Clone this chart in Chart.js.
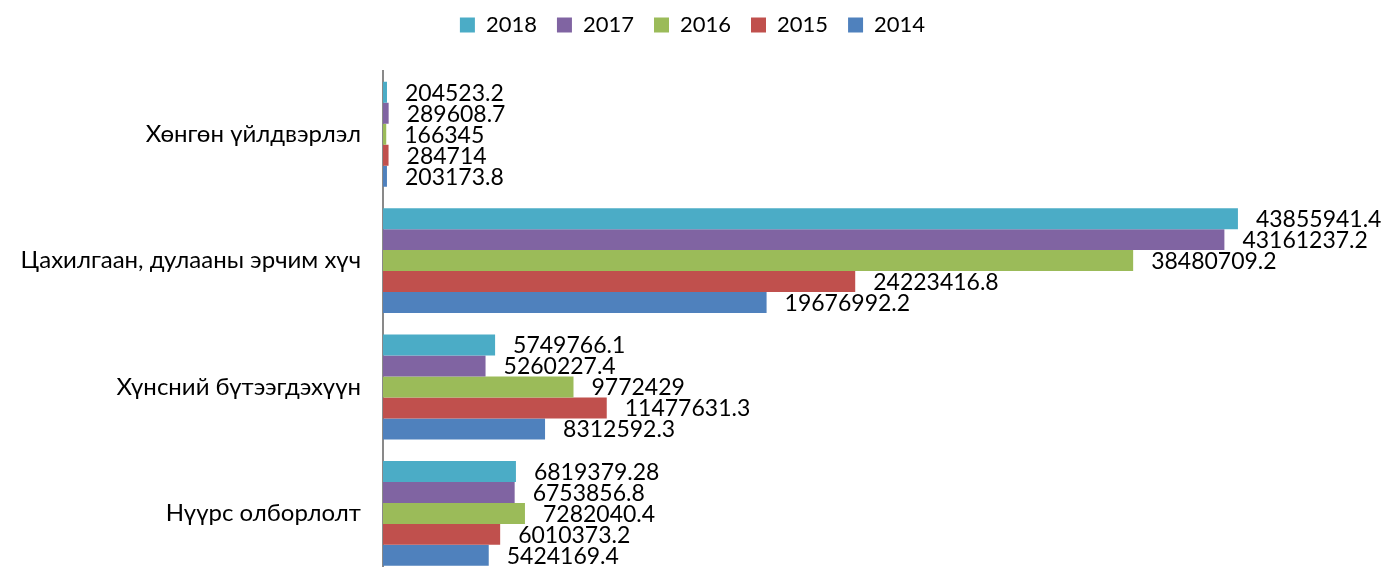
<!DOCTYPE html>
<html>
<head>
<meta charset="utf-8">
<script src="https://cdn.jsdelivr.net/npm/chart.js@4/dist/chart.umd.min.js"></script>
<style>
  html, body { margin: 0; padding: 0; background: #fff; overflow: hidden; }
  canvas { display: block; }
</style>
</head>
<body>
<canvas id="chart" width="1385" height="613"></canvas>
<script>
var categories = ['Хөнгөн үйлдвэрлэл', 'Цахилгаан, дулааны эрчим хүч', 'Хүнсний бүтээгдэхүүн', 'Нүүрс олборлолт'];
var years = ['2018', '2017', '2016', '2015', '2014'];
var v2018 = [204523.2, 43855941.4, 5749766.1, 6819379.28];
var v2017 = [289608.7, 43161237.2, 5260227.4, 6753856.8];
var v2016 = [166345, 38480709.2, 9772429, 7282040.4];
var v2015 = [284714, 24223416.8, 11477631.3, 6010373.2];
var v2014 = [203173.8, 19676992.2, 8312592.3, 5424169.4];
var colors = ['#4BACC6', '#8064A2', '#9BBB59', '#C0504D', '#4F81BD'];

var FONT = "Lato, 'Noto Sans', sans-serif";

// values printed just past the end of each bar
var barLabels = {
    id: 'barLabels',
    afterDatasetsDraw: function(chart) {
        var ctx = chart.ctx;
        ctx.save();
        ctx.font = '23px ' + FONT;
        ctx.fillStyle = '#000';
        ctx.textAlign = 'left';
        ctx.textBaseline = 'middle';
        chart.data.datasets.forEach(function(ds, i) {
            chart.getDatasetMeta(i).data.forEach(function(bar, j) {
                ctx.fillText(String(ds.data[j]), bar.x + 18, bar.y + 1);
            });
        });
        ctx.restore();
    }
};

// extra space under the legend
var legendGap = {
    id: 'legendGap',
    beforeInit: function(chart) {
        var fit = chart.legend.fit;
        chart.legend.fit = function() {
            fit.bind(chart.legend)();
            this.height += 25;
        };
    }
};

var series = [v2018, v2017, v2016, v2015, v2014];

var ctx = document.getElementById('chart');
var myChart = new Chart(ctx, {
    type: 'bar',
    data: {
        labels: categories,
        datasets: years.map(function(y, i) {
            return {
                label: y,
                data: series[i],
                backgroundColor: colors[i],
                borderWidth: 0,
                barPercentage: 1,
                categoryPercentage: 0.83
            };
        })
    },
    options: {
        indexAxis: 'y',
        responsive: false,
        animation: false,
        layout: { padding: { top: -6, right: 0, bottom: 0, left: 0 } },
        scales: {
            x: {
                display: false,
                min: 0,
                max: 51400000
            },
            y: {
                grid: { display: false, drawTicks: false },
                border: { display: true, color: '#898989', width: 2 },
                ticks: {
                    color: '#000',
                    font: { family: FONT, size: 24 },
                    padding: 22
                },
                afterFit: function(scale) { scale.width = 383; }
            }
        },
        plugins: {
            legend: {
                position: 'top',
                labels: {
                    color: '#000',
                    font: { family: FONT, size: 22 },
                    boxWidth: 15,
                    boxHeight: 15,
                    padding: 20
                }
            },
            tooltip: { enabled: false }
        }
    },
    plugins: [barLabels, legendGap]
});
</script>
</body>
</html>
